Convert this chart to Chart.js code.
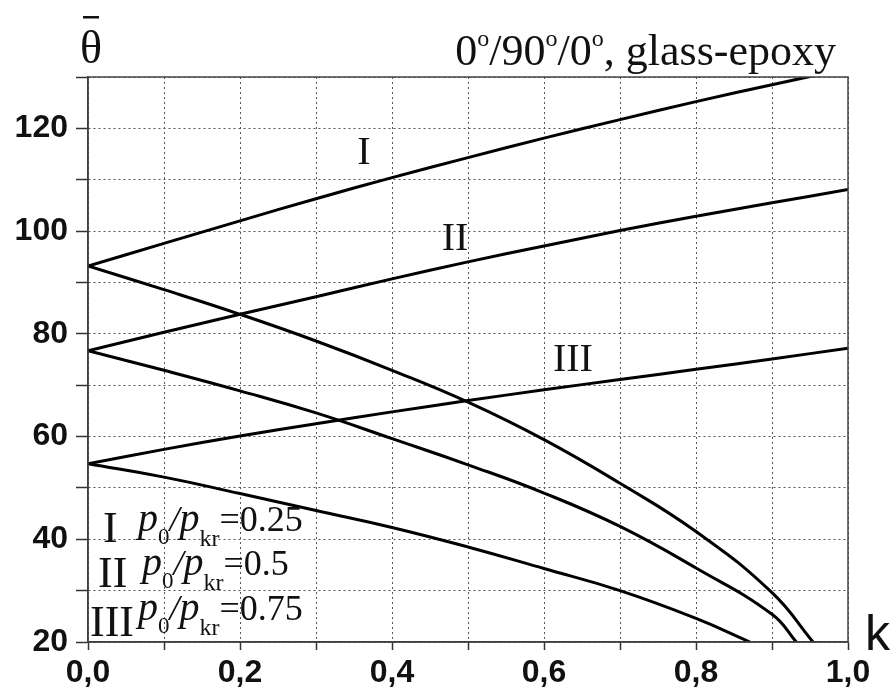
<!DOCTYPE html>
<html><head><meta charset="utf-8">
<script src="https://cdn.jsdelivr.net/npm/chart.js@4.4.1/dist/chart.umd.min.js"></script>
<style>html,body{margin:0;padding:0;background:#fff;}#wrap{width:892px;height:695px;position:relative;}</style>
</head><body><div id="wrap"><canvas id="c" width="892" height="695"></canvas></div>
<script>
// ---- data ----
const kUp = [0, 0.1, 0.2, 0.3, 0.4, 0.5, 0.6, 0.7, 0.8, 0.9, 1.0];
const thetaIUp   = [93.2, 97.6, 102.0, 106.3, 110.4, 114.3, 118.1, 121.7, 125.2, 128.5, 131.7];
const thetaIIUp  = [76.7, 80.3, 83.8, 87.2, 90.7, 94.0, 97.1, 100.1, 102.9, 105.5, 108.1];
const thetaIIIUp = [54.7, 57.5, 60.1, 62.5, 64.8, 67.0, 69.1, 71.1, 73.1, 75.1, 77.2];
const kILow   = [0, 0.1, 0.2, 0.3, 0.4, 0.5, 0.6, 0.7, 0.8, 0.9, 0.954];
const thetaILow   = [93.2, 88.6, 83.8, 78.6, 72.9, 66.7, 59.4, 50.9, 41.5, 29.6, 20];
const kIILow  = [0, 0.1, 0.2, 0.3, 0.4, 0.5, 0.6, 0.7, 0.8, 0.9, 0.932];
const thetaIILow  = [76.7, 72.9, 68.9, 64.6, 59.6, 54.5, 49.0, 42.5, 34.4, 25.4, 20];
const kIIILow = [0, 0.1, 0.2, 0.3, 0.4, 0.5, 0.6, 0.7, 0.8, 0.871];
const thetaIIILow = [54.7, 52.1, 48.9, 45.6, 42.3, 38.5, 34.3, 30.0, 24.6, 20];
const curveNames = ['I', 'II', 'III'];
const ratioValues = ['0.25', '0.5', '0.75'];
const xTickLabels = ['0,0', '0,2', '0,4', '0,6', '0,8', '1,0'];
const yTickLabels = [20, 40, 60, 80, 100, 120];
const titleText = ['0', '/90', '/0', ', glass-epoxy'];

const SERIF = '"Liberation Serif", "Times New Roman", serif';
const SANS = '"Liberation Sans", Arial, sans-serif';

function pts(xs, ys) { return xs.map((v, i) => ({x: v, y: ys[i]})); }
function ds(xs, ys) {
  return {data: pts(xs, ys), borderColor: '#000', borderWidth: 3, pointRadius: 0,
          fill: false, tension: 0.45, clip: 0};
}
function runsWidth(ctx, runs) { let w = 0; for (const r of runs) { ctx.font = r.font; w += ctx.measureText(r.t).width; } return w; }
function drawRuns(ctx, x, y, runs) {
  for (const r of runs) { ctx.font = r.font; ctx.fillText(r.t, x, y + (r.dy || 0)); x += ctx.measureText(r.t).width; }
}

const curveLabelAt = [[0.363, 115.5], [0.483, 98.8], [0.638, 75.3]];

const annot = {
  id: 'annot',
  afterDraw(chart) {
    const {ctx, chartArea: a, scales: {x, y}} = chart;
    ctx.save();
    // frame
    ctx.strokeStyle = '#444'; ctx.lineWidth = 1.5;
    ctx.strokeRect(a.left, a.top, a.right - a.left, a.bottom - a.top);
    ctx.fillStyle = '#111'; ctx.textBaseline = 'alphabetic'; ctx.textAlign = 'left';
    // theta bar
    ctx.font = '46px ' + SERIF;
    ctx.fillText('θ', 80, 63);
    ctx.fillRect(83, 16, 16, 2.5);
    // title
    const big = '44px ' + SERIF, sup = '24px ' + SERIF;
    const truns = [
      {t: titleText[0], font: big}, {t: 'o', font: sup, dy: -19},
      {t: titleText[1], font: big}, {t: 'o', font: sup, dy: -19},
      {t: titleText[2], font: big}, {t: 'o', font: sup, dy: -19},
      {t: titleText[3], font: big}
    ];
    const tw = runsWidth(ctx, truns);
    drawRuns(ctx, 836 - tw, 65, truns);
    // k
    ctx.font = '50px ' + SANS;
    ctx.fillText('k', 865, 650);
    // curve labels
    ctx.font = '40px ' + SERIF; ctx.textAlign = 'center';
    curveLabelAt.forEach((p, i) => ctx.fillText(curveNames[i], x.getPixelForValue(p[0]), y.getPixelForValue(p[1]) + 13));
    // legend
    ctx.textAlign = 'left';
    const rows = [
      {rx: 103, rb: 542, px: 138, pb: 531},
      {rx: 98, rb: 587, px: 142, pb: 575},
      {rx: 90, rb: 636, px: 138, pb: 620}
    ];
    rows.forEach((r, i) => {
      ctx.font = '44px ' + SERIF;
      ctx.fillText(curveNames[i], r.rx, r.rb);
      drawRuns(ctx, r.px, r.pb, [
        {t: 'p', font: 'italic 40px ' + SERIF},
        {t: '0', font: '23px ' + SERIF, dy: 13},
        {t: '/', font: 'italic 36px ' + SERIF},
        {t: 'p', font: 'italic 40px ' + SERIF},
        {t: 'kr', font: '24px ' + SERIF, dy: 15},
        {t: '=' + ratioValues[i], font: '36px ' + SERIF}
      ]);
    });
    ctx.restore();
  }
};

new Chart(document.getElementById('c'), {
  type: 'line',
  data: {
    datasets: [
      ds(kUp, thetaIUp), ds(kUp, thetaIIUp), ds(kUp, thetaIIIUp),
      ds(kILow, thetaILow), ds(kIILow, thetaIILow), ds(kIIILow, thetaIIILow)
    ]
  },
  options: {
    responsive: false, animation: false, devicePixelRatio: 1,
    layout: {padding: {left: 0, right: 44, top: 77, bottom: 0}},
    plugins: {legend: {display: false}, tooltip: {enabled: false}, title: {display: false}},
    scales: {
      x: {
        type: 'linear', min: 0, max: 1,
        afterFit(s) { s.height = 53; },
        grid: {color: '#555', lineWidth: 1, tickLength: 8, tickColor: '#333', tickWidth: 1.5},
        border: {display: true, color: '#333', width: 1.5, dash: [2, 3]},
        ticks: {
          stepSize: 0.1, autoSkip: false, maxRotation: 0, padding: 4, color: '#111',
          font: {family: SANS, size: 32, weight: 'bold'},
          callback(v) { const n = Math.round(v * 10); return n % 2 === 0 ? xTickLabels[n / 2] : ''; }
        }
      },
      y: {
        type: 'linear', min: 20, max: 130,
        afterFit(s) { s.width = 88; },
        grid: {color: '#555', lineWidth: 1, tickLength: 12, tickColor: '#333', tickWidth: 1.5},
        border: {display: true, color: '#333', width: 1.5, dash: [2, 3]},
        ticks: {
          stepSize: 10, autoSkip: false, padding: 8, color: '#111',
          font: {family: SANS, size: 32, weight: 'bold'},
          callback(v) { return yTickLabels.includes(Math.round(v)) ? String(Math.round(v)) : ''; }
        }
      }
    }
  },
  plugins: [annot]
});
</script></body></html>
